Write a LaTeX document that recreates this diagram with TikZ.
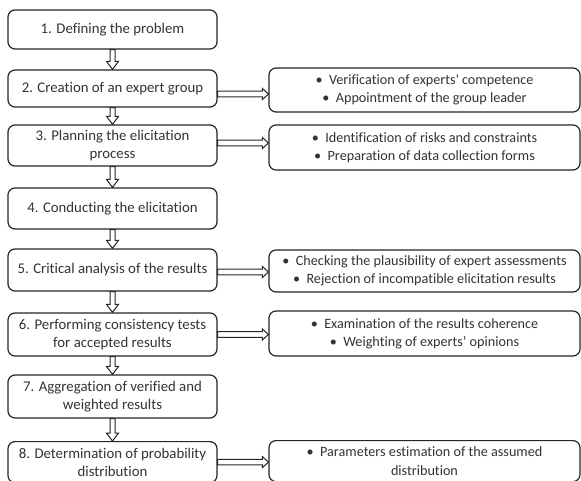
\documentclass[tikz,border=0pt]{standalone}
\usepackage{fontspec}
\setmainfont{Carlito}[Ligatures={TeX,NoCommon}]
\usetikzlibrary{calc}
\newcommand\varrow[2]{%
  \draw[arr] ($(#1.south)+(-2.5,0)$) -- ($(#2.north)+(-2.5,-8)$) -- ($(#2.north)+(-6,-8)$) -- (#2.north)
    -- ($(#2.north)+(6,-8)$) -- ($(#2.north)+(2.5,-8)$) -- ($(#1.south)+(2.5,0)$) -- cycle;}
\newcommand\harrow[3]{%
  \draw[arr] ($(#1.east)+(0,#3-2.8)$) -- ($(#1.east -| #2.west)+(-6,#3-2.8)$) -- ($(#1.east -| #2.west)+(-6,#3-5.5)$)
    -- ($(#1.east -| #2.west)+(0,#3)$) -- ($(#1.east -| #2.west)+(-6,#3+5.5)$) -- ($(#1.east -| #2.west)+(-6,#3+2.8)$)
    -- ($(#1.east)+(0,#3+2.8)$) -- cycle;}
\begin{document}
\begin{tikzpicture}[x=1pt,y=-1pt,
  box/.style={draw=black!85, line width=1.2pt, rounded corners=7pt, align=center, inner sep=0pt, text=black!80},
  lbox/.style={box, minimum width=209pt, font=\fontsize{14.8}{18.3}\selectfont},
  rbox/.style={box, minimum width=311pt, font=\fontsize{14.2}{18.3}\selectfont},
  arr/.style={draw=black!85, line width=1pt, fill=white, line join=miter}]
\useasboundingbox (0,0) rectangle (581,481);
\clip (0,0) rectangle (581,481);
\fill[white] (0,0) rectangle (581,481);
\node[lbox, minimum height=39pt] (l1) at (112.5,29.5) {1. Defining the problem};
\node[lbox, minimum height=37pt] (l2) at (112.5,88.5) {2. Creation of an expert group};
\node[lbox, minimum height=41pt] (l3) at (112.5,145.5) {3. Planning the elicitation\\process};
\node[lbox, minimum height=41pt] (l4) at (112.5,208.5) {4. Conducting the elicitation};
\node[lbox, minimum height=42pt] (l5) at (112.5,270) {5. Critical analysis of the results};
\node[lbox, minimum height=43pt] (l6) at (112.5,334.5) {6. Performing consistency tests\\for accepted results};
\node[lbox, minimum height=43pt] (l7) at (112.5,396.5) {7. Aggregation of verified and\\weighted results};
\node[lbox, minimum height=41pt, anchor=north] (l8) at (112.5,441) {8. Determination of probability\\distribution};
\node[rbox, minimum height=44pt] (r1) at (424.5,90) {•\ \ Verification of experts\textquotesingle\ competence\\•\ \ Appointment of the group leader};
\node[rbox, minimum height=45pt] (r2) at (424.5,147.5) {•\ \ Identification of risks and constraints\\•\ \ Preparation of data collection forms};
\node[rbox, minimum height=42pt] (r3) at (424.5,271) {•\ \ Checking the plausibility of expert assessments\\•\ \ Rejection of incompatible elicitation results};
\node[rbox, minimum height=45pt] (r4) at (424.5,333.5) {•\ \ Examination of the results coherence\\•\ \ Weighting of experts’ opinions};
\node[rbox, minimum height=41pt, anchor=north] (r5) at (424.5,440) {•\ \ Parameters estimation of the assumed\\distribution};
\varrow{l1}{l2}
\varrow{l2}{l3}
\varrow{l3}{l4}
\varrow{l4}{l5}
\varrow{l5}{l6}
\varrow{l6}{l7}
\varrow{l7}{l8}
\harrow{l2}{r1}{5.5}
\harrow{l3}{r2}{-2.5}
\harrow{l5}{r3}{2}
\harrow{l6}{r4}{0}
\harrow{l8}{r5}{0}
\end{tikzpicture}
\end{document}
